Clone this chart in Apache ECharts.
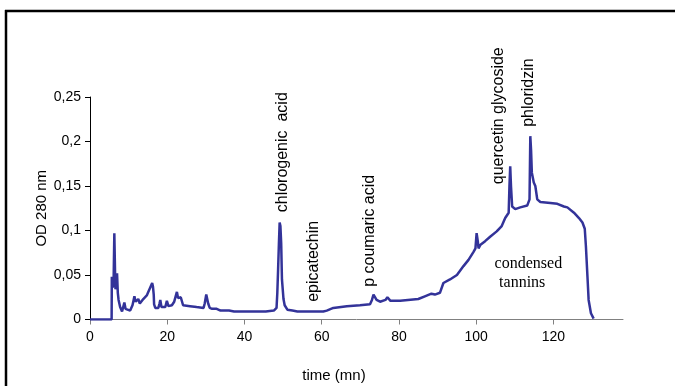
<!DOCTYPE html>
<html>
<head>
<meta charset="utf-8">
<script src="https://cdn.jsdelivr.net/npm/echarts@6/dist/echarts.min.js"></script>
<style>
  html, body { margin: 0; padding: 0; background: #fff; }
  #chart { width: 675px; height: 386px; }
</style>
</head>
<body>
<div id="chart"></div>
<script>
// retention time (min)
var time = [0, 5.6, 5.65, 5.9, 6.1, 6.3, 6.5, 6.6, 6.8, 7.0, 7.2, 7.4, 7.8, 8.3, 8.6, 8.9, 9.2, 9.5, 10.4, 11.0,
  11.3, 11.5, 11.8, 12.1, 12.5, 12.9, 13.3, 13.8, 14.2, 14.7, 15.0, 15.3, 15.6, 15.9, 16.1, 16.3, 16.5, 16.6, 16.9, 17.7,
  18.0, 18.2, 18.5, 19.5, 19.9, 20.3, 21.2, 21.8, 22.1, 22.5, 22.8, 23.0, 23.5, 24.1, 25.9, 27.6, 29.4, 29.7, 30.1, 30.3,
  30.6, 31.0, 31.6, 32.8, 33.1, 33.8, 36.0, 36.4, 37.3, 40.7, 44.3, 44.6, 45.5, 47.6, 48.3, 48.5, 48.7, 48.9, 49.1, 49.3,
  49.5, 49.7, 50.1, 50.4, 51.1, 52.4, 52.8, 53.7, 58.0, 60.4, 61.3, 63.0, 66.5, 69.9, 72.5, 73.0, 73.4, 74.2, 75.1, 76.5,
  77.0, 77.8, 80.3, 85.0, 86.7, 88.4, 89.3, 90.6, 91.5, 93.2, 95.0, 96.7, 98.0, 99.3, 99.8, 100.1, 100.4, 100.6, 101.1, 101.4,
  102.3, 102.8, 103.6, 104.1, 105.3, 106.6, 107.5, 108.4, 108.6, 108.8, 109.0, 109.3, 110.1, 111.4, 113.2, 113.8, 114.0, 114.2, 114.4, 114.9,
  115.3, 115.8, 116.6, 119.2, 121.0, 122.7, 123.6, 125.3, 126.6, 127.5, 128.1, 128.4, 128.8, 129.1, 129.7, 130.4];
// optical density at 280 nm
var od = [0, 0, 0.048, 0.036, 0.04, 0.097, 0.05, 0.034, 0.04, 0.052, 0.03, 0.022, 0.014, 0.009, 0.008, 0.019, 0.012, 0.011, 0.010, 0.016,
  0.022, 0.026, 0.020, 0.018, 0.023, 0.018, 0.019, 0.023, 0.024, 0.027, 0.030, 0.032, 0.036, 0.038, 0.041, 0.037, 0.028, 0.017, 0.013, 0.013,
  0.018, 0.022, 0.014, 0.014, 0.021, 0.015, 0.016, 0.020, 0.022, 0.031, 0.024, 0.022, 0.025, 0.016, 0.015, 0.014, 0.013, 0.018, 0.028, 0.029,
  0.018, 0.013, 0.012, 0.012, 0.014, 0.010, 0.010, 0.012, 0.009, 0.009, 0.009, 0.011, 0.009, 0.010, 0.013, 0.030, 0.056, 0.084, 0.109, 0.105,
  0.086, 0.045, 0.023, 0.016, 0.011, 0.010, 0.011, 0.009, 0.009, 0.009, 0.010, 0.013, 0.015, 0.016, 0.017, 0.022, 0.028, 0.022, 0.020, 0.022,
  0.025, 0.021, 0.021, 0.023, 0.026, 0.029, 0.028, 0.030, 0.041, 0.045, 0.050, 0.060, 0.067, 0.076, 0.080, 0.097, 0.088, 0.080, 0.084, 0.082,
  0.088, 0.090, 0.093, 0.093, 0.099, 0.105, 0.114, 0.120, 0.150, 0.172, 0.150, 0.127, 0.124, 0.126, 0.128, 0.135, 0.206, 0.190, 0.165, 0.154,
  0.150, 0.135, 0.132, 0.131, 0.130, 0.127, 0.126, 0.120, 0.114, 0.109, 0.102, 0.082, 0.048, 0.022, 0.007, 0.001];

var xTicks = [0, 20, 40, 60, 80, 100, 120];
var yTicks = [0, 0.05, 0.1, 0.15, 0.2, 0.25];

// peak annotations: label, time position, label start (OD value)
var peakNames = ['chlorogenic  acid', 'epicatechin', 'p coumaric acid', 'quercetin glycoside', 'phloridzin'];
var peakTimes = [49.8, 58.0, 72.5, 105.7, 113.5];
var peakLabelOd = [0.1205, 0.0199, 0.0367, 0.152, 0.2165];
var areaLabel = ['condensed', 'tannins'];

var chart = echarts.init(document.getElementById('chart'));
var data = time.map(function (t, i) { return [t, od[i]]; });

chart.setOption({
  animation: false,
  grid: { left: 90, top: 97, right: 52, bottom: 66.5, containLabel: false },
  xAxis: {
    type: 'value', min: 0, max: 138, interval: 20,
    axisLine: { show: true, onZero: false, lineStyle: { color: '#808080', width: 1 } },
    axisTick: { show: true, inside: false, length: 5, customValues: xTicks, lineStyle: { color: '#808080' } },
    axisLabel: { customValues: xTicks, margin: 11, color: '#000', fontFamily: 'Liberation Sans', fontSize: 14 },
    splitLine: { show: false }
  },
  yAxis: {
    type: 'value', min: 0, max: 0.25, interval: 0.05,
    name: 'OD 280 nm', nameLocation: 'middle', nameGap: 41, nameMoveOverlap: false,
    nameTextStyle: { color: '#000', fontFamily: 'Liberation Sans', fontSize: 15 },
    axisLine: { show: true, lineStyle: { color: '#000', width: 1 } },
    axisTick: { show: true, inside: false, length: 5, customValues: yTicks, lineStyle: { color: '#000' } },
    axisLabel: {
      customValues: yTicks,
      margin: 9, color: '#000', fontFamily: 'Liberation Sans', fontSize: 14,
      formatter: function (v) { return String(+v.toFixed(2)).replace('.', ','); }
    },
    splitLine: { show: false }
  },
  series: [{
    type: 'line', data: data, showSymbol: false, symbol: 'none',
    lineStyle: { color: '#333399', width: 2.5 }, z: 3
  }]
});

var graphics = [
  { type: 'line', shape: { x1: 5, y1: 11, x2: 675, y2: 11 }, style: { stroke: '#000', lineWidth: 2.5 } },
  { type: 'line', shape: { x1: 6, y1: 10, x2: 6, y2: 386 }, style: { stroke: '#000', lineWidth: 2.5 } },
  { type: 'text', x: 334, y: 376, style: { text: 'time (mn)', textAlign: 'center', textVerticalAlign: 'middle',
      fill: '#000', font: '15px "Liberation Sans"' } }
];
peakNames.forEach(function (name, i) {
  var p = chart.convertToPixel({ gridIndex: 0 }, [peakTimes[i], peakLabelOd[i]]);
  graphics.push({ type: 'text', x: p[0], y: p[1], rotation: Math.PI / 2,
    style: { text: name, textAlign: 'left', textVerticalAlign: 'middle', fill: '#000', font: '16px "Liberation Sans"' } });
});
var a1 = chart.convertToPixel({ gridIndex: 0 }, [113.5, 0.0625]);
var a2 = chart.convertToPixel({ gridIndex: 0 }, [111.9, 0.041]);
graphics.push({ type: 'text', x: a1[0], y: a1[1], style: { text: areaLabel[0], textAlign: 'center', textVerticalAlign: 'middle', fill: '#000', font: '16px "Liberation Serif"' } });
graphics.push({ type: 'text', x: a2[0], y: a2[1], style: { text: areaLabel[1], textAlign: 'center', textVerticalAlign: 'middle', fill: '#000', font: '16px "Liberation Serif"' } });
chart.setOption({ graphic: graphics });
</script>
</body>
</html>
